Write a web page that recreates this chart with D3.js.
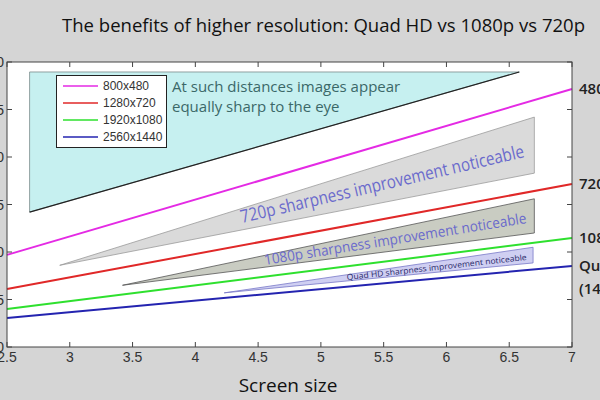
<!DOCTYPE html>
<html><head><meta charset="utf-8">
<script src="https://cdn.jsdelivr.net/npm/d3@7"></script>
<style>
html,body{margin:0;padding:0;background:#d5d5d5;overflow:hidden}
svg{display:block}
</style></head>
<body><svg id="c" width="600" height="400"></svg>
<script>
// ---- data ----
const xEnds = [2.5, 7];
const series = ["800x480", "1280x720", "1920x1080", "2560x1440"];
const v480 = [9.7, 27.16];
const v720 = [6.1, 17.16];
const v1080 = [4.0, 11.47];
const v1440 = [3.05, 8.53];
const xTicks = [2.5, 3, 3.5, 4, 4.5, 5, 5.5, 6, 6.5, 7];
const yTicks = [0, 5, 10, 15, 20, 25, 30];
const rightLabels = ["480", "720", "1080", "Quad HD", "(1440p)"];
const sameRegion = [[2.68, 28.95], [6.58, 28.95], [2.68, 14.2]];
const band720 = [[2.92, 8.6], [6.7, 24.2], [6.7, 18.3]];
const band1080 = [[3.42, 6.5], [6.7, 15.6], [6.7, 12.0]];
const bandQHD = [[4.23, 5.7], [6.69, 10.5], [6.69, 8.85]];
const title = "The benefits of higher resolution: Quad HD vs 1080p vs 720p";
const xTitle = "Screen size";

const svg = d3.select("#c");
const L = 7, R = 572, T = 62, B = 347;
const x = d3.scaleLinear().domain([2.5, 7]).range([L, R]);
const y = d3.scaleLinear().domain([0, 30]).range([B, T]);

// plot area
svg.append("rect").attr("x", L).attr("y", T).attr("width", R - L).attr("height", B - T)
  .attr("fill", "#fff");

const poly = d3.line().x(d => x(d[0])).y(d => y(d[1])).curve(d3.curveLinearClosed);

// cyan region
svg.append("path").attr("d", poly(sameRegion)).attr("fill", "#c6f0f0")
  .attr("stroke", "#7a8a8a").attr("stroke-width", 0.8);
svg.append("line").attr("x1", x(sameRegion[2][0])).attr("y1", y(sameRegion[2][1]))
  .attr("x2", x(sameRegion[1][0])).attr("y2", y(sameRegion[1][1]))
  .attr("stroke", "#222").attr("stroke-width", 1.1);

svg.append("path").attr("d", poly(band720)).attr("fill", "#dadada")
  .attr("stroke", "#9a9a9a").attr("stroke-width", 0.8);
svg.append("path").attr("d", poly(band1080)).attr("fill", "#c9ccc2")
  .attr("stroke", "#555").attr("stroke-width", 0.8);
svg.append("path").attr("d", poly(bandQHD)).attr("fill", "#cfcff2")
  .attr("stroke", "#7878c8").attr("stroke-width", 0.8);

// lines
const colors = ["#e42ae4", "#e02828", "#2ee02e", "#2424b0"];
const vals = [v480, v720, v1080, v1440];
const ln = d3.line().x((d, i) => x(xEnds[i])).y(d => y(d));
vals.forEach((v, i) => {
  svg.append("path").attr("d", ln(v)).attr("fill", "none")
    .attr("stroke", colors[i]).attr("stroke-width", 2);
});

// annotations
const ff = "'Open Sans', 'Noto Sans', sans-serif";
const narrow = "'Liberation Sans Narrow', 'Liberation Sans', Arial, sans-serif";
const cy = svg.append("text").attr("font-family", ff).attr("font-size", 15).attr("fill", "#3b6868");
cy.append("tspan").attr("x", 172).attr("y", 92).text("At such distances images appear");
cy.append("tspan").attr("x", 172).attr("y", 112).text("equally sharp to the eye");

function slanted(txt, p0, p1, size, fill) {
  const x0 = x(p0[0]), y0 = y(p0[1]), x1 = x(p1[0]), y1 = y(p1[1]);
  const ang = Math.atan2(y1 - y0, x1 - x0) * 180 / Math.PI;
  const len = Math.hypot(x1 - x0, y1 - y0);
  svg.append("text").attr("transform", `translate(${x0},${y0}) rotate(${ang})`)
    .attr("font-family", ff).attr("font-size", size).attr("fill", fill)
    .attr("textLength", len).attr("lengthAdjust", "spacingAndGlyphs").text(txt);
}
slanted("720p sharpness improvement noticeable", [4.372, 13.05], [6.626, 20.0], 18, "#6a6acc");
slanted("1080p sharpness improvement noticeable", [4.555, 8.63], [6.641, 13.05], 14.5, "#6a6acc");
slanted("Quad HD sharpness improvement noticeable", [5.208, 7.05], [6.641, 9.16], 8, "#2a2a6a");

// legend
const lg = svg.append("g");
lg.append("rect").attr("x", 56.5).attr("y", 75.5).attr("width", 110).attr("height", 72)
  .attr("fill", "#fff").attr("stroke", "#222").attr("stroke-width", 1);
series.forEach((s, i) => {
  const yy = 86 + i * 17;
  lg.append("line").attr("x1", 63).attr("x2", 98).attr("y1", yy).attr("y2", yy)
    .attr("stroke", colors[i]).attr("stroke-width", 1.5);
  lg.append("text").attr("x", 103).attr("y", yy + 4).attr("font-family", narrow)
    .attr("font-size", 12).attr("fill", "#333").text(s);
});

// axes (ticks inward, box)
const ax = svg.append("g").attr("stroke", "#444").attr("stroke-width", 1);
ax.append("rect").attr("x", L).attr("y", T).attr("width", R - L).attr("height", B - T).attr("fill", "none");
xTicks.forEach(t => {
  ax.append("line").attr("x1", x(t)).attr("x2", x(t)).attr("y1", B).attr("y2", B - 5);
  ax.append("line").attr("x1", x(t)).attr("x2", x(t)).attr("y1", T).attr("y2", T + 5);
});
yTicks.forEach(t => {
  ax.append("line").attr("x1", L).attr("x2", L + 5).attr("y1", y(t)).attr("y2", y(t));
  ax.append("line").attr("x1", R).attr("x2", R - 5).attr("y1", y(t)).attr("y2", y(t));
});
svg.append("g").selectAll("text").data(xTicks).join("text")
  .attr("x", d => x(d)).attr("y", 362).attr("text-anchor", "middle")
  .attr("font-family", narrow).attr("font-size", 14).attr("fill", "#333")
  .text(d => d3.format("")(d));
svg.append("g").selectAll("text").data(yTicks).join("text")
  .attr("x", 4).attr("y", d => y(d) + 5).attr("text-anchor", "end")
  .attr("font-family", narrow).attr("font-size", 14).attr("fill", "#333")
  .text(d => d);

// right labels
const rl = [v480[1], v720[1], v1080[1], v1440[1]];
const rlY = [y(rl[0]), y(rl[1]), y(rl[2]), y(rl[3]), y(rl[3]) + 23];
rightLabels.forEach((t, i) => {
  svg.append("text").attr("x", 579).attr("y", rlY[i] + 5)
    .attr("font-family", ff).attr("font-size", 15).attr("font-weight", 600)
    .attr("fill", "#222").text(t);
});

// titles
svg.append("text").attr("x", 62).attr("y", 32).attr("font-family", ff)
  .attr("font-size", 19).attr("fill", "#111").attr("textLength", 523)
  .attr("lengthAdjust", "spacingAndGlyphs").text(title);
svg.append("text").attr("x", 288).attr("y", 392).attr("text-anchor", "middle")
  .attr("font-family", ff).attr("font-size", 19).attr("fill", "#111").text(xTitle);
</script></body></html>
